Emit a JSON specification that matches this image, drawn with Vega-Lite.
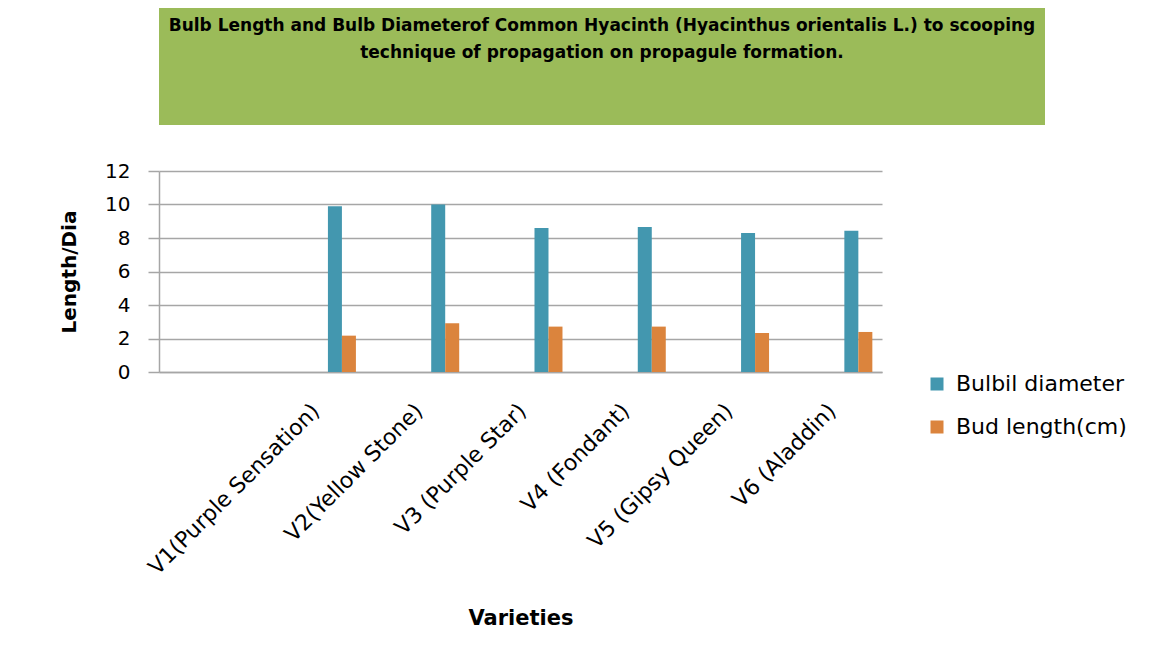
{
  "$schema": "https://vega.github.io/schema/vega-lite/v6.json",
  "padding": {"left": 59, "top": 8, "right": 0, "bottom": 0},
  "background": "white",
  "config": {"font": "DejaVu Sans", "view": {"stroke": null}},
  "bounds": "flush",
  "spacing": 46,
  "vconcat": [
    {
      "width": 886,
      "height": 117,
      "view": {"fill": "#9BBB59", "stroke": null},
      "data": {"values": [{"t": "Bulb Length and Bulb Diameterof Common Hyacinth (Hyacinthus orientalis L.) to scooping\ntechnique of propagation on propagule formation."}]},
      "mark": {"type": "text", "lineBreak": "\n", "font": "DejaVu Sans", "fontWeight": "bold", "fontSize": 17, "lineHeight": 27, "baseline": "middle", "align": "center", "dy": -41, "color": "black"},
      "encoding": {"text": {"field": "t", "type": "nominal"}}
    },
    {
      "width": 723,
      "height": 201,
      "data": {"values": [
        {"variety": "V1(Purple Sensation)", "series": "Bulbil diameter", "value": 9.9},
        {"variety": "V1(Purple Sensation)", "series": "Bud length(cm)", "value": 2.17},
        {"variety": "V2(Yellow Stone)", "series": "Bulbil diameter", "value": 10.0},
        {"variety": "V2(Yellow Stone)", "series": "Bud length(cm)", "value": 2.91},
        {"variety": "V3 (Purple Star)", "series": "Bulbil diameter", "value": 8.6},
        {"variety": "V3 (Purple Star)", "series": "Bud length(cm)", "value": 2.71},
        {"variety": "V4 (Fondant)", "series": "Bulbil diameter", "value": 8.65},
        {"variety": "V4 (Fondant)", "series": "Bud length(cm)", "value": 2.71},
        {"variety": "V5 (Gipsy Queen)", "series": "Bulbil diameter", "value": 8.3},
        {"variety": "V5 (Gipsy Queen)", "series": "Bud length(cm)", "value": 2.33},
        {"variety": "V6 (Aladdin)", "series": "Bulbil diameter", "value": 8.43},
        {"variety": "V6 (Aladdin)", "series": "Bud length(cm)", "value": 2.39}
      ]},
      "mark": {"type": "bar"},
      "encoding": {
        "x": {
          "field": "variety",
          "type": "nominal",
          "sort": null,
          "scale": {"domain": ["", "V1(Purple Sensation)", "V2(Yellow Stone)", "V3 (Purple Star)", "V4 (Fondant)", "V5 (Gipsy Queen)", "V6 (Aladdin)"], "paddingInner": 0, "paddingOuter": 0},
          "axis": {
            "title": "Varieties",
            "titleFont": "DejaVu Sans",
            "titleFontSize": 21,
            "titleFontWeight": "bold",
            "titleColor": "black",
            "titlePadding": 35,
            "labelAngle": -45,
            "labelAlign": "right",
            "labelBaseline": "middle",
            "labelFontSize": 22,
            "labelColor": "black",
            "labelPadding": 35,
            "labelOffset": 2,
            "labelLimit": 400,
            "ticks": false,
            "domainColor": "#A6A6A6",
            "domainWidth": 1.5,
            "grid": false
          }
        },
        "xOffset": {
          "field": "series",
          "type": "nominal",
          "scale": {"domain": ["d1", "d2", "d3", "d4", "Bulbil diameter", "Bud length(cm)"], "paddingInner": 0, "paddingOuter": 0.69}
        },
        "y": {
          "field": "value",
          "type": "quantitative",
          "scale": {"domain": [0, 12], "nice": false},
          "axis": {
            "title": "Length/Dia",
            "titleFont": "DejaVu Sans",
            "titleFontSize": 20,
            "titleFontWeight": "bold",
            "titleColor": "black",
            "titlePadding": 25,
            "values": [0, 2, 4, 6, 8, 10, 12],
            "labelFontSize": 20,
            "labelColor": "black",
            "labelPadding": 18,
            "tickSize": 11,
            "tickColor": "#A6A6A6",
            "tickWidth": 1.5,
            "domainColor": "#A6A6A6",
            "domainWidth": 1.5,
            "gridColor": "#A6A6A6",
            "gridWidth": 1.5
          }
        },
        "color": {
          "field": "series",
          "type": "nominal",
          "scale": {"domain": ["Bulbil diameter", "Bud length(cm)"], "range": ["#4397AF", "#DB843D"]},
          "legend": {
            "title": null,
            "orient": "none",
            "legendX": 767,
            "legendY": 365,
            "symbolType": "square",
            "symbolSize": 169,
            "symbolStrokeWidth": 0,
            "labelFontSize": 22,
            "labelColor": "black",
            "labelOffset": 8,
            "labelLimit": 300,
            "rowPadding": 21
          }
        }
      }
    }
  ]
}
